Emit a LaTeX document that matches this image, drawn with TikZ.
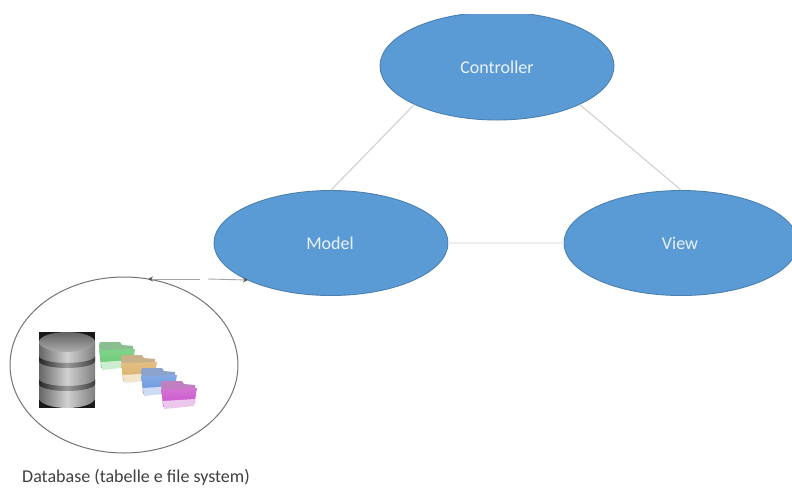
\documentclass[tikz,border=0pt]{standalone}
\usepackage{fontspec}
\setmainfont{Carlito}
\usetikzlibrary{shapes.geometric,arrows.meta}
\definecolor{blob}{HTML}{5B9BD5}
\definecolor{blobedge}{HTML}{4A7FB0}
\definecolor{fgreen}{HTML}{6CCB78}
\definecolor{forange}{HTML}{DDB46E}
\definecolor{fblue}{HTML}{6F9BE0}
\definecolor{fmagenta}{HTML}{CC5CCC}
\tikzset{
  x=1pt,y=-1pt,
  mvc/.style={ellipse,draw=blobedge,line width=0.9pt,fill=blob,inner sep=0pt,minimum width=234pt,minimum height=105pt},
  mvctext/.style={text=white!88!blob,font=\fontsize{18}{20}\selectfont,inner sep=0pt},
  link/.style={draw=#1,line width=1.1pt},
  store/.style={ellipse,draw=black!55,line width=1pt,inner sep=0pt,minimum width=228pt,minimum height=176pt},
  caption/.style={text=black!75,font=\fontsize{18}{20}\selectfont,inner sep=0pt}
}
\newcommand{\dbfolder}[3]{%
  \begin{scope}[shift={(#1,#2)}]
    \fill[#3!80!black!70!white] (1,3) -- (2,0) -- (22,0) -- (24,3) -- (35,4) -- (35,22) -- (3,26) -- cycle;
    \shade[top color=#3!85!white,bottom color=#3] (1,8) -- (37,7) -- (35,19) -- (3,21) -- cycle;
    \fill[white!65!#3] (3,20) -- (35,18) -- (34,25) -- (4,28) -- cycle;
  \end{scope}}
\newcommand{\dbband}[1]{%
  \shade[left color=black!85,right color=black!75,middle color=black!40]
    (39,#1) arc[start angle=180,end angle=0,x radius=28,y radius=7]
    -- ++(0,5) arc[start angle=0,end angle=180,x radius=28,y radius=7] -- cycle;}
\begin{document}
\begin{tikzpicture}
\useasboundingbox (0,0) rectangle (792,491);
\fill[white] (0,0) rectangle (792,491);
% MVC ellipses
\node[mvc,minimum height=108pt] (ctrl) at (497,66) {};
\fill[white] (370,0) rectangle (625,14);
\node[mvc] (model) at (331,243) {};
\node[mvc] (view) at (681,243) {};
\node[mvctext] (ctrlt) at (497,67) {Controller};
\node[mvctext] (modelt) at (330,243) {Model};
\node[mvctext] (viewt) at (680,243) {View};
% connectors
\draw[link=black!18] (ctrl.205) -- (model.90);
\draw[link=black!18] (ctrl.335) -- (view.90);
\draw[link=black!7] (model.east) -- (view.west);
% database group
\node[store] (db) at (124,365) {};
\coordinate (gapa) at (200,279);
\coordinate (gapb) at (208,279);
\coordinate (dbtop) at (148,279);
\coordinate (modelin) at (248,280);
\draw[black!35,line width=0.9pt,{Stealth[length=5pt,width=5pt,black!65]}-] (dbtop) -- (gapa);
\draw[black!35,line width=0.9pt,-{Stealth[length=5pt,width=5pt,black!65]}] (gapb) -- (modelin);
% cylinder icon
\fill[black!90] (39,332) rectangle (95,408);
\shade[left color=black!60,right color=black!50,middle color=black!18]
  (39,342) -- (39,398) arc[start angle=180,end angle=0,x radius=28,y radius=10] -- (95,342) -- cycle;
\shade[top color=black!62,bottom color=black!32] (67,342) ellipse[x radius=28,y radius=10];
\dbband{356}
\dbband{379}
% folders
\dbfolder{98}{342}{fgreen}
\dbfolder{120}{355}{forange}
\dbfolder{140}{368}{fblue}
\dbfolder{160}{381}{fmagenta}
\node[caption] (dbcap) at (136,477) {Database (tabelle e file system)};
\end{tikzpicture}
\end{document}
